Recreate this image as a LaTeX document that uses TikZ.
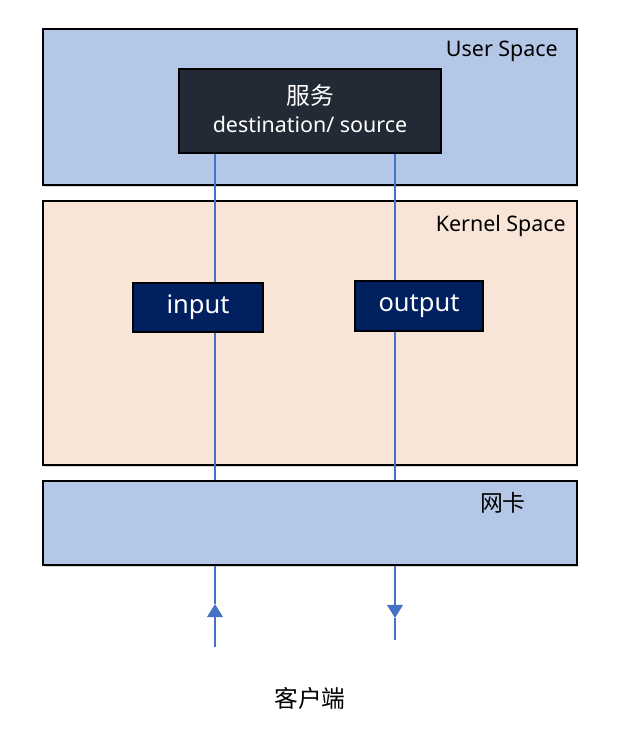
\documentclass[tikz,border=0pt]{standalone}
\usepackage{fontspec}
\setmainfont{Noto Sans}
\newfontfamily\cjk{Noto Sans CJK SC}
\usetikzlibrary{arrows.meta,shadows}
\definecolor{userblue}{HTML}{B4C7E7}
\definecolor{kernelpeach}{HTML}{F8E5D7}
\definecolor{servdark}{HTML}{222A35}
\definecolor{hooknavy}{HTML}{002060}
\definecolor{wireblue}{HTML}{4472C4}
\pgfdeclarelayer{bg}
\pgfdeclarelayer{wires}
\pgfsetlayers{bg,wires,main}
\tikzset{
  space/.style={draw=black,line width=0.9pt,inner sep=0pt,
    drop shadow={shadow xshift=0.6pt,shadow yshift=-0.9pt,opacity=0.35}},
  hook/.style={draw=black,line width=0.9pt,fill=hooknavy,text=white,
    inner sep=0pt,font=\fontsize{14.5}{16}\selectfont},
  tag/.style={font=\fontsize{12.2}{14}\selectfont,anchor=east},
  wire/.style={wireblue,line width=1pt},
  tip/.style={-{Triangle[width=9pt,length=7.5pt]}},
}

\begin{document}
\begin{tikzpicture}[x=0.02cm,y=-0.02cm]
\useasboundingbox (0,0) rectangle (620,734);
\begin{pgfonlayer}{bg}
\node[space,fill=userblue,minimum width=10.68cm,minimum height=3.12cm] (user) at (310,107) {};
\node[space,fill=kernelpeach,minimum width=10.68cm,minimum height=5.28cm] (kernel) at (310,333) {};
\node[space,fill=userblue,minimum width=10.68cm,minimum height=1.68cm] (nic) at (310,523) {};
\end{pgfonlayer}

% labels of the spaces
\node[tag] (usertag) at (564,51) {User Space};
\node[tag] (kerneltag) at (572,226) {Kernel Space};
\node[tag,font=\cjk\fontsize{13}{14}\selectfont] (nictag) at (532,503) {网卡};

% service and the two hooks
\node[draw=black,line width=0.9pt,fill=servdark,
  minimum width=5.24cm,minimum height=1.68cm,inner sep=0pt] (serv) at (310,111) {};
\node[text=white,align=center,font=\fontsize{12.2}{16}\selectfont] (servtext) at (310,109)
  {{\cjk\fontsize{13.5}{14}\selectfont 服务}\\destination/ source};
\node[hook,minimum width=2.6cm,minimum height=0.98cm] (inp) at (198,307.5) {input};
\node[hook,minimum width=2.56cm,minimum height=1.0cm] (outp) at (419,306) {output};

\node[font=\cjk\fontsize{13.5}{14}\selectfont] (client) at (310,698) {客户端};

\coordinate (inx) at (215,0);
\coordinate (outx) at (395,0);
\coordinate (inlow) at (215,647);
\coordinate (intip) at (215,604);
\coordinate (outtip) at (395,618);
\coordinate (outlow) at (395,640);

\begin{pgfonlayer}{wires}
\draw[wire] (serv.south -| inx) -- (nic.north -| inx);
\draw[wire] (serv.south -| outx) -- (nic.north -| outx);
\draw[wire,tip] (inlow) -- (intip);
\draw[wire] (intip) -- (nic.south -| intip);
\draw[wire,tip] (nic.south -| outtip) -- (outtip);
\draw[wire] (outtip) -- (outlow);
\end{pgfonlayer}
\end{tikzpicture}
\end{document}
